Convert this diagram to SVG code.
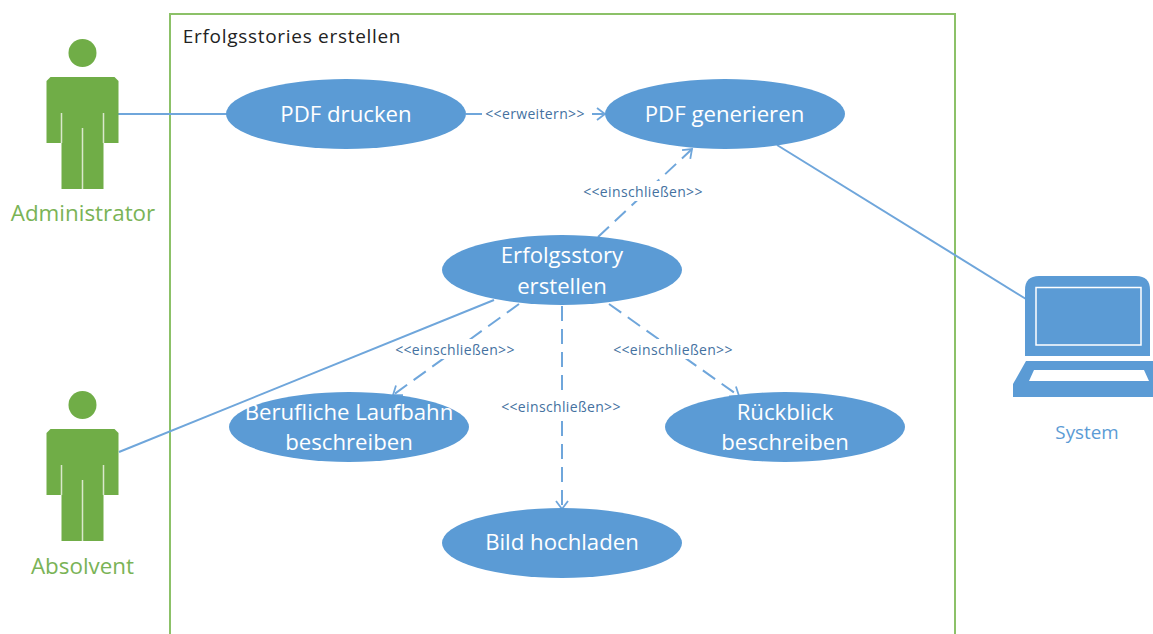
<svg xmlns="http://www.w3.org/2000/svg" width="1153" height="634" viewBox="0 0 1153 634">
<defs>
<style>
text{font-family:"Open Sans","Noto Sans","Liberation Sans",sans-serif;text-anchor:middle}
.uc{fill:#5b9bd5}
.ut{fill:#fff;font-size:22.2px}
.act{fill:#70ad47}
.gap{stroke:#d9e8cc;stroke-width:1.500;fill:none}
.an{fill:#7ab356;font-size:22.4px}
.sol{stroke:#6fa6db;stroke-width:2;fill:none}
.dash{stroke:#6fa6db;stroke-width:2;fill:none;stroke-dasharray:15 8}
.lb{fill:#44719f;font-size:14px;letter-spacing:.35px}
.bg{fill:#fff}
</style>
<marker id="open" markerWidth="12" markerHeight="16" refX="10" refY="8" orient="auto" markerUnits="userSpaceOnUse">
<path d="M2 2L10 8L2 14" fill="none" stroke="#6fa6db" stroke-width="1.800"/>
</marker>
<g id="actor">
<circle class="act" cx="82.500" cy="53" r="14"/>
<path class="act" d="M50.500 77H114.500L118.500 81V143H103.500V189H61.500V143H46.500V81Z"/>
<path class="gap" d="M61.500 113V143M103.500 113V143M82.500 128V189"/>
</g>
</defs>
<rect width="1153" height="634" fill="#fff"/>
<g id="system-boundary">
<path d="M170 640V14H955V640" fill="none" stroke="#8cc168" stroke-width="2"/>
<text x="292" y="42.500" font-size="19" letter-spacing=".7" fill="#222">Erfolgsstories erstellen</text>
</g>
<g id="connectors">
<path class="dash" d="M598 237L692 149" marker-end="url(#open)"/>
<path class="dash" d="M519 304L393 395" marker-end="url(#open)"/>
<path class="dash" d="M562 306V509" marker-end="url(#open)"/>
<path class="dash" d="M609 304L739 396" marker-end="url(#open)"/>
<rect class="bg" x="581" y="181" width="125" height="20"/>
<text class="lb" x="643" y="196.500">&lt;&lt;einschließen&gt;&gt;</text>
<rect class="bg" x="393" y="339" width="125" height="20"/>
<text class="lb" x="455" y="354.500">&lt;&lt;einschließen&gt;&gt;</text>
<rect class="bg" x="499" y="396" width="125" height="20"/>
<text class="lb" x="561" y="411.500">&lt;&lt;einschließen&gt;&gt;</text>
<rect class="bg" x="611" y="339" width="125" height="20"/>
<text class="lb" x="673" y="354.500">&lt;&lt;einschließen&gt;&gt;</text>
<path class="sol" d="M118 114H228"/>
<path class="sol" d="M119 452L494 300"/>
<path class="sol" d="M777 145L1026 299"/>
<path class="sol" d="M466 114H482"/>
<path class="sol" d="M592 114H605" marker-end="url(#open)"/>
<text class="lb" x="535" y="119">&lt;&lt;erweitern&gt;&gt;</text>
</g>
<g id="administrator">
<use href="#actor"/>
<text class="an" x="83" y="221">Administrator</text>
</g>
<g id="absolvent">
<use href="#actor" y="352"/>
<text class="an" x="82.500" y="574">Absolvent</text>
</g>
<g id="system">
<path class="uc" d="M1039 276H1136Q1150 276 1150 290V356H1025V290Q1025 276 1039 276Z"/>
<rect x="1036" y="287.500" width="105" height="57.500" fill="none" stroke="#fff" stroke-width="1.500"/>
<path class="uc" d="M1026 361H1153V397H1013V384Z"/>
<path d="M1034 370H1144L1149 381H1029Z" fill="#fff"/>
<text x="1087" y="439" font-size="18.800" fill="#5b9bd5">System</text>
</g>
<g id="pdf-drucken">
<ellipse class="uc" cx="346" cy="114" rx="120" ry="35"/>
<text class="ut" x="346" y="121.500">PDF drucken</text>
</g>
<g id="pdf-generieren">
<ellipse class="uc" cx="725" cy="114" rx="120" ry="35"/>
<text class="ut" x="724.500" y="121.500">PDF generieren</text>
</g>
<g id="erfolgsstory-erstellen">
<ellipse class="uc" cx="562" cy="270" rx="120" ry="35"/>
<text class="ut" x="562" y="262.500">Erfolgsstory</text>
<text class="ut" x="562" y="293.500">erstellen</text>
</g>
<g id="berufliche-laufbahn">
<ellipse class="uc" cx="349" cy="427" rx="120" ry="35"/>
<text class="ut" x="349" y="420">Berufliche Laufbahn</text>
<text class="ut" x="349" y="450">beschreiben</text>
</g>
<g id="rueckblick">
<ellipse class="uc" cx="785" cy="427" rx="120" ry="35"/>
<text class="ut" x="785" y="420">Rückblick</text>
<text class="ut" x="785" y="450">beschreiben</text>
</g>
<g id="bild-hochladen">
<ellipse class="uc" cx="562" cy="543" rx="120" ry="35"/>
<text class="ut" x="562" y="549.500">Bild hochladen</text>
</g>
</svg>
